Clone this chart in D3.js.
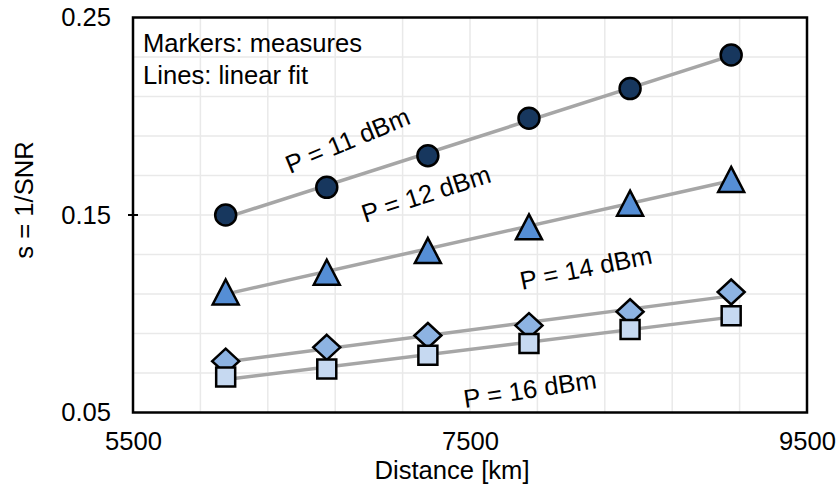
<!doctype html>
<html lang="en">
<head>
<meta charset="UTF-8">
<title>s = 1/SNR vs distance</title>
<style>
    body { margin: 0; background: #fff; }
    svg text { font-family: "Liberation Sans", Arial, sans-serif; fill: #000; }
    .grid line { stroke: #e9e9e9; stroke-width: 1.5; }
    .fit { fill: none; stroke: #a6a6a6; stroke-width: 3.5; }
    .marker { stroke: #000; stroke-width: 2.5; }
</style>
</head>
<body>
<svg class="chart"></svg>
<script src="https://d3js.org/d3.v7.min.js"></script>
<script>
    // data
    var distances = [6050, 6650, 7250, 7850, 8450, 9050];
    var p11 = [0.150, 0.164, 0.180, 0.199, 0.214, 0.231];
    var p12 = [0.111, 0.121, 0.132, 0.144, 0.156, 0.168];
    var p14 = [0.076, 0.083, 0.089, 0.094, 0.101, 0.111];
    var p16 = [0.068, 0.072, 0.079, 0.085, 0.092, 0.099];

    var xTicks = [5500, 7500, 9500];
    var yTicks = [0.05, 0.15, 0.25];
    var xGridStep = 400, yGridStep = 0.02;

    var seriesNames = ["P = 11 dBm", "P = 12 dBm", "P = 14 dBm", "P = 16 dBm"];
    var seriesValues = [p11, p12, p14, p16];
    var seriesShapes = ["circle", "triangle", "diamond", "square"];
    var seriesColors = ["#17375e", "#558ed5", "#8db3e2", "#c6d9f1"];

    var fontSize = "25.6px";

    var totalWidth = 838, totalHeight = 486;
    var margin = {top: 17.5, right: 31, bottom: 73.5, left: 133};
    var width = totalWidth - margin.left - margin.right;
    var height = totalHeight - margin.top - margin.bottom;

    var x = d3.scaleLinear().domain([5500, 9500]).range([0, width]);
    var y = d3.scaleLinear().domain([0.05, 0.25]).range([height, 0]);

    var svg = d3.select(".chart")
        .attr("width", totalWidth)
        .attr("height", totalHeight);

    var g = svg.append("g")
        .attr("transform", "translate(" + margin.left + "," + margin.top + ")");

    // gridlines
    var grid = g.append("g").attr("class", "grid");
    grid.selectAll(".vx").data(d3.range(5500 + xGridStep, 9500, xGridStep)).enter()
        .append("line")
        .attr("x1", function(d) { return x(d); }).attr("x2", function(d) { return x(d); })
        .attr("y1", 0).attr("y2", height);
    grid.selectAll(".hy").data(d3.range(1, 10).map(function(i) { return 0.05 + i * yGridStep; })).enter()
        .append("line")
        .attr("y1", function(d) { return y(d); }).attr("y2", function(d) { return y(d); })
        .attr("x1", 0).attr("x2", width);

    // axes (labels only, frame drawn separately)
    var xAxis = g.append("g")
        .attr("transform", "translate(0," + height + ")")
        .call(d3.axisBottom(x).tickValues(xTicks).tickSize(0).tickPadding(19).tickFormat(d3.format("d")));
    xAxis.select(".domain").remove();
    xAxis.selectAll("text").style("font-size", fontSize).attr("font-family", null);

    var yAxis = g.append("g")
        .call(d3.axisLeft(y).tickValues(yTicks).tickSize(0).tickPadding(22).tickFormat(d3.format(".2f")));
    yAxis.select(".domain").remove();
    yAxis.selectAll("text").style("font-size", fontSize).attr("font-family", null);

    // small tick mark at the middle y tick
    g.selectAll(".ytick").data(yTicks.slice(1, 2)).enter()
        .append("line")
        .attr("x1", -5).attr("x2", 5)
        .attr("y1", function(d) { return y(d); }).attr("y2", function(d) { return y(d); })
        .attr("stroke", "#000").attr("stroke-width", 2);

    // plot frame
    g.append("rect")
        .attr("x", 0).attr("y", 0)
        .attr("width", width).attr("height", height)
        .attr("fill", "none").attr("stroke", "#000").attr("stroke-width", 2.5);

    // least-squares fit for each series
    function fit(xs, ys) {
        var mx = d3.mean(xs), my = d3.mean(ys);
        var num = d3.sum(xs, function(v, i) { return (v - mx) * (ys[i] - my); });
        var den = d3.sum(xs, function(v) { return (v - mx) * (v - mx); });
        var b = num / den;
        return function(v) { return my + b * (v - mx); };
    }

    seriesValues.forEach(function(vals) {
        var f = fit(distances, vals);
        var x0 = distances[0], x1 = distances[distances.length - 1];
        g.append("line").attr("class", "fit")
            .attr("x1", x(x0)).attr("y1", y(f(x0)))
            .attr("x2", x(x1)).attr("y2", y(f(x1)));
    });

    // marker shapes
    var shapePath = {
        circle: "M10.5,0A10.5,10.5 0 1,1 -10.5,0A10.5,10.5 0 1,1 10.5,0Z",
        triangle: "M0,-12.5L13,12.5L-13,12.5Z",
        diamond: "M0,-12.5L13.5,0L0,12.5L-13.5,0Z",
        square: "M-9.5,-9.5L9.5,-9.5L9.5,9.5L-9.5,9.5Z"
    };

    seriesValues.forEach(function(vals, s) {
        g.append("g").selectAll("path")
            .data(distances.map(function(d, i) { return {x: d, y: vals[i]}; }))
            .enter().append("path")
            .attr("class", "marker")
            .attr("d", shapePath[seriesShapes[s]])
            .attr("fill", seriesColors[s])
            .attr("transform", function(d) { return "translate(" + x(d.x) + "," + y(d.y) + ")"; });
    });

    // series labels, rotated along the lines
    var labelPos = [
        {x: 290, y: 174, a: -22.5},
        {x: 365, y: 223, a: -18},
        {x: 522, y: 290, a: -11.5},
        {x: 465, y: 408, a: -8.6}
    ];
    svg.selectAll(".lbl").data(seriesNames).enter()
        .append("text")
        .attr("transform", function(d, i) {
            return "translate(" + labelPos[i].x + "," + labelPos[i].y + ") rotate(" + labelPos[i].a + ")";
        })
        .style("font-size", fontSize)
        .text(function(d) { return d; });

    // note text
    svg.append("text").attr("x", 143).attr("y", 52).style("font-size", fontSize).text("Markers: measures");
    svg.append("text").attr("x", 143).attr("y", 83.5).style("font-size", fontSize).text("Lines: linear fit");

    // axis titles
    svg.append("text")
        .attr("x", 452).attr("y", 479)
        .attr("text-anchor", "middle")
        .style("font-size", fontSize)
        .text("Distance [km]");

    svg.append("text")
        .attr("transform", "translate(33,200) rotate(-90)")
        .attr("text-anchor", "middle")
        .style("font-size", fontSize)
        .text("s = 1/SNR");
</script>
</body>
</html>
